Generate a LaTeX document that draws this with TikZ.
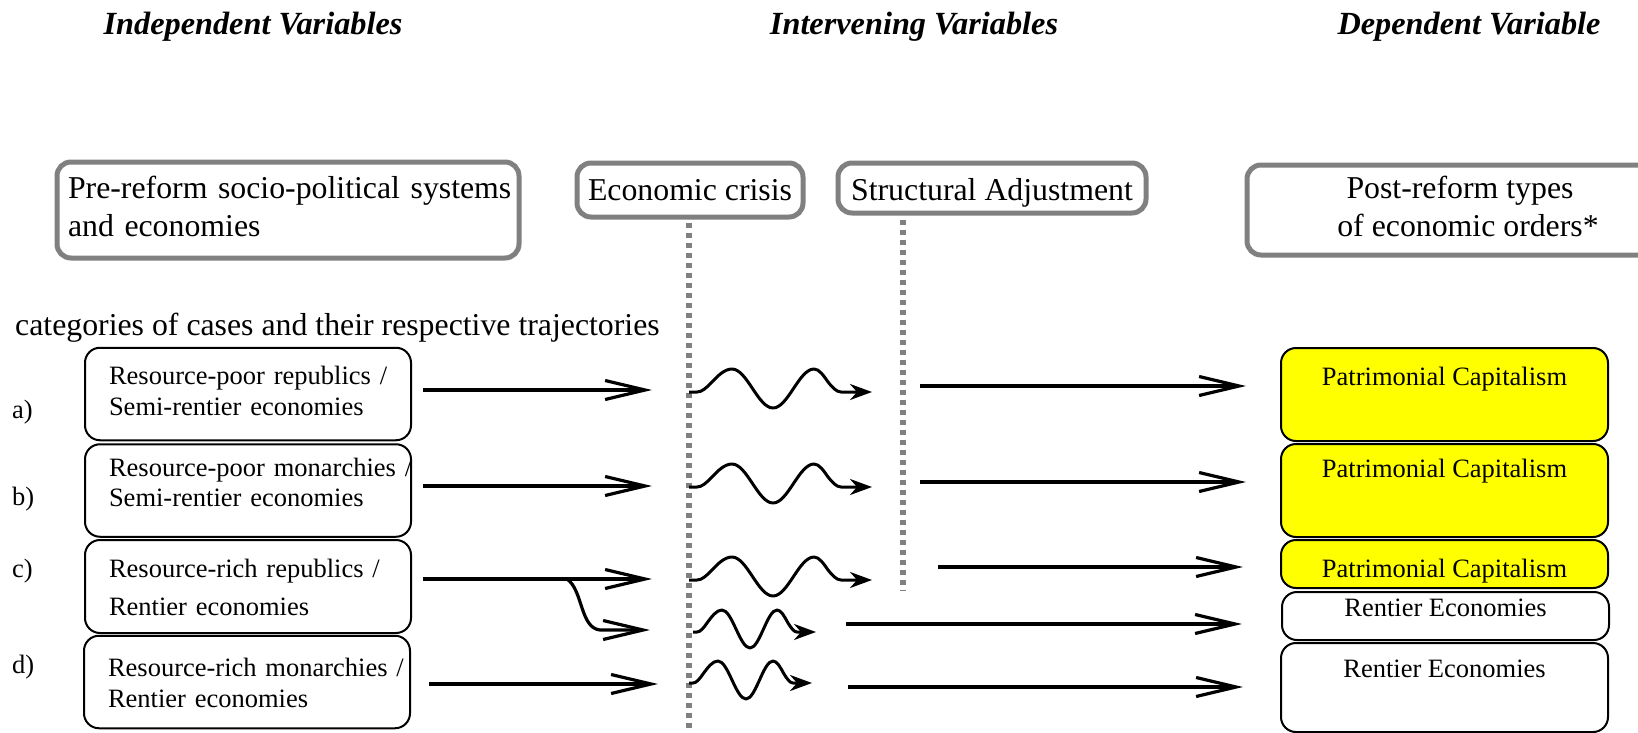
\documentclass[tikz,border=0pt]{standalone}
\usepackage{fontspec}
\setmainfont{Liberation Serif}
\usetikzlibrary{arrows.meta, positioning}
\definecolor{orderyellow}{RGB}{255,255,0}
\definecolor{stagegray}{RGB}{128,128,128}
\newcommand{\linetop}[1]{\rule{0pt}{#1}}
\newcommand{\linebot}[1]{\rule[-#1]{0pt}{#1}}
\tikzset{
  head label/.style={
    anchor=base,
    inner sep=0pt,
    font=\fontsize{32.3}{38}\selectfont\bfseries\itshape
  },
  stage box/.style={
    draw=stagegray,
    line width=5pt,
    rounded corners=14pt,
    fill=white,
    inner ysep=0pt,
    font=\fontsize{31.8}{37.5}\selectfont
  },
  case box/.style={
    draw=black,
    line width=2pt,
    rounded corners=15pt,
    inner xsep=24pt,
    inner ysep=0pt,
    text width=278pt,
    align=left,
    font=\fontsize{26.5}{30.5}\selectfont
  },
  order box/.style={
    draw=black,
    line width=2pt,
    rounded corners=15pt,
    inner sep=0pt,
    minimum width=327pt,
    font=\fontsize{26.5}{30.5}\selectfont
  },
  patrimonial/.style={
    order box,
    fill=orderyellow
  },
  case label/.style={
    anchor=base west,
    inner sep=0pt,
    font=\fontsize{26.5}{30.5}\selectfont
  },
  step arrow/.style={
    -{Straight Barb[length=40pt,width=19pt]},
    line width=3.2pt
  },
  wave arrow/.style={
    -{Stealth[length=22pt,width=16pt,inset=7pt]},
    line width=3pt,
    line join=round
  },
  guide/.style={
    draw=stagegray,
    line width=5.5pt,
    dash pattern=on 5pt off 5pt
  },
  long wave/.pic={
    \draw[wave arrow] (0,0) -- (8,0) cos (22,-9) sin (43,-23) cos (63.5,-3.5)
      sin (84,16) cos (104.5,-3.5) sin (125,-23) cos (139,-10) sin (152,0) -- (183,0);
  },
  short wave/.pic={
    \draw[wave arrow] (0,0) -- (4,0) cos (14,-9) sin (29,-22) cos (43,-3)
      sin (57,16) cos (70.5,-3) sin (84,-22) cos (95,-9) sin (104,0) -- (123,0);
  }
}

\begin{document}
\begin{tikzpicture}[x=1pt, y=-1pt]

  % page
  \path[fill=white, use as bounding box] (0,0) rectangle (1638,733);

  % column headings
  \node[head label] (hind) at (253,35) {Independent Variables};
  \node[head label] (hint) at (914,35) {Intervening Variables};
  \node[head label] (hdep) at (1469,35) {Dependent Variable};

  % stages
  \node[stage box, text width=440pt, inner xsep=11pt, align=left] (pre) at (288,210)
    {\linetop{36.5pt}\mbox{Pre-reform socio-political systems}\\\mbox{and economies}\linebot{22pt}};
  \node[stage box, minimum width=226pt, text height=37pt, text depth=17pt] (crisis) at (690,190)
    {Economic crisis};
  \node[stage box, minimum width=308pt, text height=37pt, text depth=13pt] (adjust) at (992,188)
    {Structural Adjustment};
  \node[stage box, minimum width=426pt, align=center] (post) at (1460,210)
    {\linetop{33.5pt}Post-reform types\\\hspace*{16pt}of economic orders*\linebot{19pt}};

  % dotted guides below the intervening stages
  \coordinate (crisis end) at (689,733);
  \coordinate (adjust end) at (903,590);
  \draw[guide] ([yshift=-3pt]crisis end |- crisis.south) -- (crisis end);
  \draw[guide] ([yshift=-4pt]adjust end |- adjust.south) -- (adjust end);

  \node[anchor=base west, inner sep=0pt, font=\fontsize{31.8}{35}\selectfont] (cat) at (15,335)
    {categories of cases and their respective trajectories};

  % categories of cases
  \node[case box] (ca) at (248,394)
    {\linetop{37pt}\mbox{Resource-poor republics /}\\\mbox{Semi-rentier economies}\linebot{25pt}};
  \node[case box] (cb) at (248,490.5)
    {\linetop{32pt}\mbox{Resource-poor monarchies /}\\\mbox{Semi-rentier economies}\linebot{30pt}};
  \node[case box] (cc) at (248,586.5)
    {\linetop{37pt}\mbox{Resource-rich republics /}\\[7.5pt]\mbox{Rentier economies}\linebot{18pt}};
  \node[case box] (cd) at (247,682)
    {\linetop{41pt}\mbox{Resource-rich monarchies /}\\\mbox{Rentier economies}\linebot{21pt}};

  \node[case label] (la) at (12,418) {a)};
  \node[case label] (lb) at (12,505) {b)};
  \node[case label] (lc) at (12,577) {c)};
  \node[case label] (ld) at (12,673) {d)};

  % economic orders
  \node[patrimonial, text height=37pt, text depth=56pt] (pca) at (1444.5,394.5) {Patrimonial Capitalism};
  \node[patrimonial, text height=33pt, text depth=60pt] (pcb) at (1444.5,490.5) {Patrimonial Capitalism};
  \node[patrimonial, text height=37pt, text depth=11pt] (pcc) at (1444.5,564) {Patrimonial Capitalism};
  \node[order box, text height=24pt, text depth=24pt] (rec) at (1445.5,616) {Rentier Economies};
  \node[order box, text height=34pt, text depth=55pt] (red) at (1444.5,687.5) {Rentier Economies};

  % into the crisis
  \coordinate (a1) at (652,390);
  \coordinate (b1) at (652,486);
  \coordinate (c1) at (652,579);
  \coordinate (c1x) at (650,630);
  \coordinate (d1) at (658,684);
  \coordinate (cfork) at (567,579);
  \draw[step arrow, shorten <=11pt] (ca.east |- a1) -- (a1);
  \draw[step arrow, shorten <=11pt] (cb.east |- b1) -- (b1);
  \draw[step arrow, shorten <=11pt] (cc.east |- c1) -- (c1);
  \draw[step arrow] (cfork) .. controls (583,590) and (580,628) .. (600,630) -- (c1x);
  \draw[step arrow, shorten <=18pt] (cd.east |- d1) -- (d1);

  % through the crisis and adjustment
  \pic at (689,392) {long wave};
  \pic at (689,487) {long wave};
  \pic at (689,580) {long wave};
  \pic at (693,632) {short wave};
  \pic at (689,683) {short wave};

  % towards the economic orders
  \coordinate (a2) at (920,386);
  \coordinate (b2) at (920,482);
  \coordinate (c2) at (938,567);
  \coordinate (c2x) at (846,624);
  \coordinate (d2) at (848,687);
  \draw[step arrow, shorten >=34pt] (a2) -- (pca.west |- a2);
  \draw[step arrow, shorten >=34pt] (b2) -- (pcb.west |- b2);
  \draw[step arrow, shorten >=37pt] (c2) -- (pcc.west |- c2);
  \draw[step arrow, shorten >=39pt] (c2x) -- (rec.west |- c2x);
  \draw[step arrow, shorten >=37pt] (d2) -- (red.west |- d2);

\end{tikzpicture}
\end{document}
